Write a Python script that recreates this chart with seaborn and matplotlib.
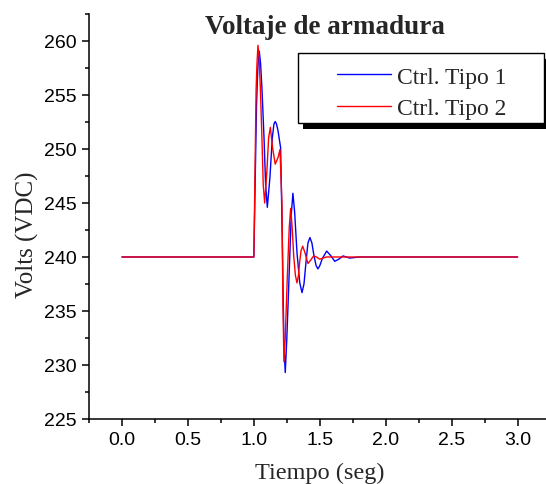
import pandas as pd
import matplotlib
matplotlib.use("Agg")
import matplotlib.pyplot as plt
from matplotlib.patches import Rectangle
from matplotlib.ticker import MultipleLocator, FormatStrFormatter
import seaborn as sns

# Ctrl. Tipo 1 (azul)
t_tipo1 = [0.0, 1.0, 1.02, 1.03, 1.041, 1.051, 1.061, 1.077, 1.089, 1.102,
           1.122, 1.140, 1.152, 1.162, 1.172, 1.183, 1.203, 1.215, 1.228, 1.238,
           1.250, 1.266, 1.283, 1.296, 1.309, 1.327, 1.348, 1.365, 1.380, 1.395,
           1.410, 1.425, 1.440, 1.456, 1.472, 1.486, 1.500, 1.519, 1.552, 1.585,
           1.613, 1.645, 1.676, 1.726, 1.80, 3.0]
v_tipo1 = [240.0, 240.0, 254.0, 257.5, 259.06, 257.9, 255.7, 251.05, 246.7, 244.6,
           247.4, 251.05, 252.3, 252.55, 252.3, 251.7, 250.1, 242.0, 232.0, 229.3,
           232.5, 237.9, 243.8, 245.9, 244.2, 240.4, 237.6, 236.7, 237.5, 239.5,
           241.3, 241.8, 241.3, 240.1, 239.2, 238.9, 239.2, 239.85, 240.55, 240.1,
           239.6, 239.8, 240.1, 239.9, 240.0, 240.0]

# Ctrl. Tipo 2 (rojo)
t_tipo2 = [0.0, 1.0, 1.017, 1.024, 1.031, 1.039, 1.049, 1.061, 1.071, 1.082,
           1.099, 1.112, 1.125, 1.142, 1.162, 1.183, 1.198, 1.213, 1.220, 1.228,
           1.238, 1.253, 1.268, 1.279, 1.290, 1.302, 1.315, 1.327, 1.338, 1.347,
           1.358, 1.370, 1.385, 1.410, 1.430, 1.453, 1.475, 1.499, 1.55, 3.0]
v_tipo2 = [240.0, 240.0, 255.5, 258.0, 259.6, 258.6, 255.7, 251.05, 246.7, 245.0,
           248.0, 251.05, 252.0, 250.1, 248.6, 249.2, 249.95, 245.0, 236.0, 230.3,
           232.5, 237.94, 242.7, 244.5, 242.8, 240.1, 238.3, 237.6, 238.3, 239.5,
           240.6, 241.0, 240.5, 239.4, 239.7, 240.1, 240.0, 239.8, 240.0, 240.0]

etiquetas = ["Ctrl. Tipo 1", "Ctrl. Tipo 2"]
colores = ["#0000ff", "#ff0000"]

SERIF = "Liberation Serif"
SANS = "Liberation Sans"

sns.set_style("ticks")

fig = plt.figure(figsize=(5.46, 4.85), dpi=100)
ax = fig.add_axes([89 / 546, 65 / 485, 457 / 546, 405 / 485])

df1 = pd.DataFrame({"t": t_tipo1, "v": v_tipo1})
df2 = pd.DataFrame({"t": t_tipo2, "v": v_tipo2})
sns.lineplot(data=df1, x="t", y="v", color=colores[0], lw=1.0, sort=False,
             estimator=None, label=etiquetas[0], ax=ax)
sns.lineplot(data=df2, x="t", y="v", color=colores[1], lw=1.0, sort=False,
             estimator=None, label=etiquetas[1], ax=ax)

ax.set_xlim(-0.25, 3.215)
ax.set_ylim(225, 262.5)
ax.xaxis.set_major_locator(MultipleLocator(0.5))
ax.xaxis.set_minor_locator(MultipleLocator(0.25))
ax.yaxis.set_major_locator(MultipleLocator(5))
ax.yaxis.set_minor_locator(MultipleLocator(2.5))
ax.xaxis.set_major_formatter(FormatStrFormatter("%.1f"))

for s in ["top", "right"]:
    ax.spines[s].set_visible(False)
for s in ["left", "bottom"]:
    ax.spines[s].set_linewidth(1.1)
    ax.spines[s].set_color("black")

ax.tick_params(which="major", direction="out", length=5, width=1.1, pad=4,
               colors="black", labelsize=14)
ax.tick_params(which="minor", direction="out", length=3, width=1.1, colors="black")
for lab in ax.get_xticklabels() + ax.get_yticklabels():
    lab.set_fontfamily(SANS)

ax.set_xlabel("Tiempo (seg)", fontsize=17.5, family=SERIF)
ax.set_ylabel("Volts (VDC)", fontsize=18, family=SERIF)
ax.xaxis.label.set_va("center")
ax.yaxis.label.set_va("center")
ax.xaxis.set_label_coords(0.505, -0.131)
ax.yaxis.set_label_coords(-0.1357, 0.457)

ax.set_title("Voltaje de armadura", fontsize=19.5, fontweight="bold",
             family=SERIF, x=0.516, y=0.954, pad=0)

# leyenda con marco y sombra estilo Origin
leg = ax.legend(loc="upper left", bbox_to_anchor=(0.5427, 0.8716), frameon=False,
                borderpad=0, borderaxespad=0, handlelength=2.3, handletextpad=0.26,
                labelspacing=0.42, prop={"family": SERIF, "size": 17})
leg.set_zorder(6)
fx0, fx1, fy0, fy1 = 0.4573, 0.9956, 0.7309, 0.9037
ax.add_patch(Rectangle((fx0 + 0.0109, fy0 - 0.0148), fx1 - fx0, fy1 - fy0,
                       transform=ax.transAxes, facecolor="black", edgecolor="none",
                       clip_on=False, zorder=4.8))
ax.add_patch(Rectangle((fx0, fy0), fx1 - fx0, fy1 - fy0, transform=ax.transAxes,
                       facecolor="white", edgecolor="black", lw=1.0,
                       clip_on=False, zorder=4.9))

fig.savefig("out.png", dpi=100)
